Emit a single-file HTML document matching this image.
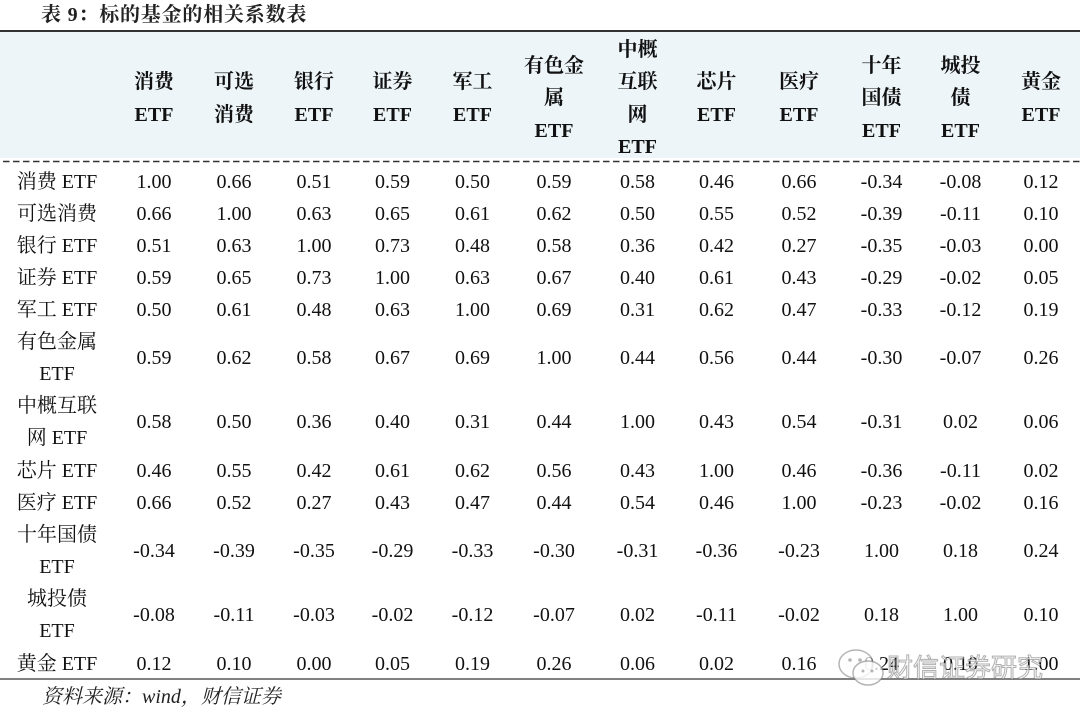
<!DOCTYPE html>
<html><head><meta charset="utf-8">
<style>
html,body{margin:0;padding:0;background:#fff;}
body{width:1080px;height:720px;position:relative;overflow:hidden;font-family:"Liberation Serif","Noto Serif CJK SC",serif;color:#111;font-size:20px;}
.title{position:absolute;left:41px;top:0;height:30px;line-height:30px;font-weight:bold;font-size:20px;color:#222;letter-spacing:0.8px;}
.topline{position:absolute;left:0;top:30px;width:1080px;height:2px;background:#333;}
.hbg{position:absolute;left:0;top:32px;width:1080px;height:126px;background:#edf5f8;}
.dash{position:absolute;left:0;top:160px;}
.botline{position:absolute;left:0;top:678px;width:1080px;height:2px;background:#808080;}
.h{position:absolute;top:34px;height:129px;width:80px;display:flex;align-items:center;justify-content:center;text-align:center;font-weight:bold;line-height:32.3px;}
.r{position:absolute;left:0;width:1080px;height:32px;}
.r.d{height:64px;}
.c{position:absolute;top:0;width:80px;text-align:center;line-height:32px;height:32px;white-space:nowrap;}
.r.d .c{top:16px;}
.lb{position:absolute;left:0;top:0;width:114px;text-align:center;line-height:32px;white-space:nowrap;}
.c1{left:114px}.c2{left:194px}.c3{left:274px}.c4{left:352.5px}.c5{left:432.5px}.c6{left:514px}
.c7{left:597.5px}.c8{left:676.5px}.c9{left:759px}.c10{left:841.5px}.c11{left:920.5px}.c12{left:1001px}
.foot{position:absolute;left:42px;top:682px;line-height:30px;font-style:italic;font-size:20px;color:#222;}
.wm{position:absolute;left:887px;top:650px;font-family:"Liberation Sans","Noto Sans CJK SC",sans-serif;font-size:26px;line-height:36px;color:rgba(255,255,255,0.75);-webkit-text-stroke:1px rgba(110,110,110,0.55);letter-spacing:0px;}
.wi{position:absolute;left:836px;top:646px;}
</style></head>
<body>
<div class="title">表 9：标的基金的相关系数表</div>
<div class="topline"></div>
<div class="hbg"></div>
<svg class="dash" width="1080" height="3"><line x1="3" y1="1.5" x2="1080" y2="1.5" stroke="#333" stroke-width="1.5" stroke-dasharray="6.5 3.5"/></svg>

<div class="h c1">消费<br>ETF</div>
<div class="h c2">可选<br>消费</div>
<div class="h c3">银行<br>ETF</div>
<div class="h c4">证券<br>ETF</div>
<div class="h c5">军工<br>ETF</div>
<div class="h c6">有色金<br>属<br>ETF</div>
<div class="h c7">中概<br>互联<br>网<br>ETF</div>
<div class="h c8">芯片<br>ETF</div>
<div class="h c9">医疗<br>ETF</div>
<div class="h c10">十年<br>国债<br>ETF</div>
<div class="h c11">城投<br>债<br>ETF</div>
<div class="h c12">黄金<br>ETF</div>

<div class="r" style="top:166px"><div class="lb">消费 ETF</div><div class="c c1">1.00</div><div class="c c2">0.66</div><div class="c c3">0.51</div><div class="c c4">0.59</div><div class="c c5">0.50</div><div class="c c6">0.59</div><div class="c c7">0.58</div><div class="c c8">0.46</div><div class="c c9">0.66</div><div class="c c10">-0.34</div><div class="c c11">-0.08</div><div class="c c12">0.12</div></div>
<div class="r" style="top:198px"><div class="lb">可选消费</div><div class="c c1">0.66</div><div class="c c2">1.00</div><div class="c c3">0.63</div><div class="c c4">0.65</div><div class="c c5">0.61</div><div class="c c6">0.62</div><div class="c c7">0.50</div><div class="c c8">0.55</div><div class="c c9">0.52</div><div class="c c10">-0.39</div><div class="c c11">-0.11</div><div class="c c12">0.10</div></div>
<div class="r" style="top:230px"><div class="lb">银行 ETF</div><div class="c c1">0.51</div><div class="c c2">0.63</div><div class="c c3">1.00</div><div class="c c4">0.73</div><div class="c c5">0.48</div><div class="c c6">0.58</div><div class="c c7">0.36</div><div class="c c8">0.42</div><div class="c c9">0.27</div><div class="c c10">-0.35</div><div class="c c11">-0.03</div><div class="c c12">0.00</div></div>
<div class="r" style="top:262px"><div class="lb">证券 ETF</div><div class="c c1">0.59</div><div class="c c2">0.65</div><div class="c c3">0.73</div><div class="c c4">1.00</div><div class="c c5">0.63</div><div class="c c6">0.67</div><div class="c c7">0.40</div><div class="c c8">0.61</div><div class="c c9">0.43</div><div class="c c10">-0.29</div><div class="c c11">-0.02</div><div class="c c12">0.05</div></div>
<div class="r" style="top:294px"><div class="lb">军工 ETF</div><div class="c c1">0.50</div><div class="c c2">0.61</div><div class="c c3">0.48</div><div class="c c4">0.63</div><div class="c c5">1.00</div><div class="c c6">0.69</div><div class="c c7">0.31</div><div class="c c8">0.62</div><div class="c c9">0.47</div><div class="c c10">-0.33</div><div class="c c11">-0.12</div><div class="c c12">0.19</div></div>
<div class="r d" style="top:326px"><div class="lb">有色金属<br>ETF</div><div class="c c1">0.59</div><div class="c c2">0.62</div><div class="c c3">0.58</div><div class="c c4">0.67</div><div class="c c5">0.69</div><div class="c c6">1.00</div><div class="c c7">0.44</div><div class="c c8">0.56</div><div class="c c9">0.44</div><div class="c c10">-0.30</div><div class="c c11">-0.07</div><div class="c c12">0.26</div></div>
<div class="r d" style="top:390px"><div class="lb">中概互联<br>网 ETF</div><div class="c c1">0.58</div><div class="c c2">0.50</div><div class="c c3">0.36</div><div class="c c4">0.40</div><div class="c c5">0.31</div><div class="c c6">0.44</div><div class="c c7">1.00</div><div class="c c8">0.43</div><div class="c c9">0.54</div><div class="c c10">-0.31</div><div class="c c11">0.02</div><div class="c c12">0.06</div></div>
<div class="r" style="top:454.5px"><div class="lb">芯片 ETF</div><div class="c c1">0.46</div><div class="c c2">0.55</div><div class="c c3">0.42</div><div class="c c4">0.61</div><div class="c c5">0.62</div><div class="c c6">0.56</div><div class="c c7">0.43</div><div class="c c8">1.00</div><div class="c c9">0.46</div><div class="c c10">-0.36</div><div class="c c11">-0.11</div><div class="c c12">0.02</div></div>
<div class="r" style="top:486.5px"><div class="lb">医疗 ETF</div><div class="c c1">0.66</div><div class="c c2">0.52</div><div class="c c3">0.27</div><div class="c c4">0.43</div><div class="c c5">0.47</div><div class="c c6">0.44</div><div class="c c7">0.54</div><div class="c c8">0.46</div><div class="c c9">1.00</div><div class="c c10">-0.23</div><div class="c c11">-0.02</div><div class="c c12">0.16</div></div>
<div class="r d" style="top:518.5px"><div class="lb">十年国债<br>ETF</div><div class="c c1">-0.34</div><div class="c c2">-0.39</div><div class="c c3">-0.35</div><div class="c c4">-0.29</div><div class="c c5">-0.33</div><div class="c c6">-0.30</div><div class="c c7">-0.31</div><div class="c c8">-0.36</div><div class="c c9">-0.23</div><div class="c c10">1.00</div><div class="c c11">0.18</div><div class="c c12">0.24</div></div>
<div class="r d" style="top:582.5px"><div class="lb">城投债<br>ETF</div><div class="c c1">-0.08</div><div class="c c2">-0.11</div><div class="c c3">-0.03</div><div class="c c4">-0.02</div><div class="c c5">-0.12</div><div class="c c6">-0.07</div><div class="c c7">0.02</div><div class="c c8">-0.11</div><div class="c c9">-0.02</div><div class="c c10">0.18</div><div class="c c11">1.00</div><div class="c c12">0.10</div></div>
<div class="r" style="top:647.5px"><div class="lb">黄金 ETF</div><div class="c c1">0.12</div><div class="c c2">0.10</div><div class="c c3">0.00</div><div class="c c4">0.05</div><div class="c c5">0.19</div><div class="c c6">0.26</div><div class="c c7">0.06</div><div class="c c8">0.02</div><div class="c c9">0.16</div><div class="c c10">0.24</div><div class="c c11">0.10</div><div class="c c12">1.00</div></div>

<div class="botline"></div>
<div class="foot">资料来源：wind，财信证券</div>

<svg class="wi" width="52" height="46" viewBox="0 0 52 46">
<ellipse cx="20" cy="18" rx="17" ry="14" fill="rgba(255,255,255,0.7)" stroke="rgba(120,120,120,0.55)" stroke-width="1.5"/>
<ellipse cx="32" cy="27" rx="15" ry="12" fill="rgba(255,255,255,0.8)" stroke="rgba(120,120,120,0.55)" stroke-width="1.5"/>
<circle cx="14" cy="14" r="1.8" fill="rgba(120,120,120,0.55)"/>
<circle cx="24" cy="14" r="1.8" fill="rgba(120,120,120,0.55)"/>
<circle cx="27" cy="25" r="1.5" fill="rgba(120,120,120,0.55)"/>
<circle cx="36" cy="25" r="1.5" fill="rgba(120,120,120,0.55)"/>
</svg>
<div class="wm">财信证券研究</div>
</body></html>
